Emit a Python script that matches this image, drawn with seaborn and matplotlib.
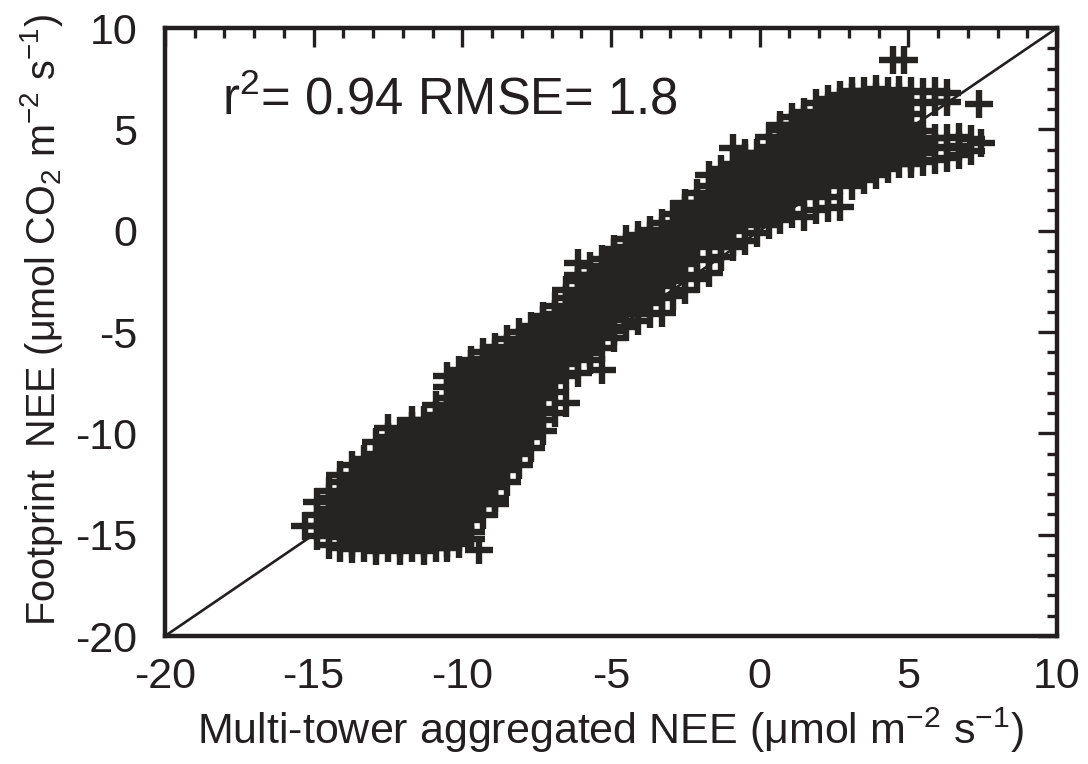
import matplotlib
matplotlib.use("Agg")
import matplotlib.pyplot as plt
from matplotlib.ticker import MultipleLocator
import pandas as pd
import seaborn as sns

# ---- data: each column x holds the '+' marks stacked in it ----
lower_x = [-15.3, -14.9, -14.5, -14.1, -13.7, -13.3, -12.9, -12.5, -12.1, -11.7,
           -11.3, -10.9, -10.5, -10.1, -9.7, -9.3]
lower_y = [
    [-14.55],
    [-15.05, -14.58, -14.03, -13.4],
    [-15.5, -14.85, -14.3, -13.75, -13.2, -12.85],
    [-15.68, -15.13, -14.58, -14.03, -13.48, -12.93, -12.38, -12.05],
    [-15.7, -15.4, -14.85, -14.3, -13.75, -13.2, -12.65, -12.1, -11.55],
    [-15.68, -15.13, -14.58, -14.03, -13.48, -12.93, -12.38, -11.83, -11.28],
    [-15.8, -15.4, -14.85, -14.3, -13.75, -13.2, -12.65, -12.1, -11.55, -11.0, -10.45],
    [-15.68, -15.13, -14.58, -14.03, -13.48, -12.93, -12.38, -11.83, -11.28, -10.73, -10.18,
     -9.75],
    [-15.8, -15.4, -14.85, -14.3, -13.75, -13.2, -12.65, -12.1, -11.55, -11.0, -10.45, -9.9],
    [-15.68, -15.13, -14.58, -14.03, -13.48, -12.93, -12.38, -11.83, -11.28, -10.73, -10.18,
     -9.63, -9.35],
    [-15.8, -15.4, -14.85, -14.3, -13.75, -13.2, -12.65, -12.1, -11.55, -11.0, -10.45, -9.9,
     -9.35],
    [-15.68, -15.13, -14.58, -14.03, -13.48, -12.93, -12.38, -11.83, -11.28, -10.73, -10.18,
     -9.63, -9.08, -8.6],
    [-15.65, -15.4, -14.85, -14.3, -13.75, -13.2, -12.65, -12.1, -11.55, -11.0, -10.45, -9.9,
     -9.35, -8.8, -8.25, -7.7, -7.15],
    [-15.45, -15.13, -14.58, -14.03, -13.48, -12.93, -12.38, -11.83, -11.28, -10.73, -10.18,
     -9.63, -9.08, -8.53, -7.98, -7.43, -6.88],
    [-15.2, -14.85, -14.3, -13.75, -13.2, -12.65, -12.1, -11.55, -11.0, -10.45, -9.9, -9.35,
     -8.8, -8.25, -7.7, -7.15, -6.6, -6.4],
    [-14.03, -13.48, -12.93, -12.38, -11.83, -11.28, -10.73, -10.18, -9.63, -9.08, -8.53,
     -7.98, -7.43, -6.88, -6.33, -6.0],
]

mid_x = [-8.9, -8.5, -8.1, -7.7, -7.3, -6.9, -6.5, -6.1, -5.7, -5.3,
         -4.9, -4.5, -4.1, -3.7, -3.3, -2.9, -2.5, -2.1, -1.7, -1.3]
mid_y = [
    [-13.5, -13.2, -12.65, -12.1, -11.55, -11.0, -10.45, -9.9, -9.35, -8.8, -8.25, -7.7,
     -7.15, -6.6, -6.05, -5.75],
    [-12.38, -11.83, -11.28, -10.73, -10.18, -9.63, -9.08, -8.53, -7.98, -7.43, -6.88, -6.33,
     -5.78, -5.35],
    [-11.55, -11.0, -10.45, -9.9, -9.35, -8.8, -8.25, -7.7, -7.15, -6.6, -6.05, -5.5, -5.0],
    [-10.73, -10.18, -9.63, -9.08, -8.53, -7.98, -7.43, -6.88, -6.33, -5.78, -5.23, -4.7],
    [-9.9, -9.35, -8.8, -8.25, -7.7, -7.15, -6.6, -6.05, -5.5, -4.95, -4.4, -4.2],
    [-9.0, -7.98, -7.43, -6.88, -6.33, -5.78, -5.23, -4.68, -4.13, -3.7],
    [-8.5, -7.15, -6.6, -6.05, -5.5, -4.95, -4.4, -3.85, -3.3, -2.95],
    [-7.0, -6.33, -5.78, -5.23, -4.68, -4.13, -3.58, -3.03, -2.48, -2.2, -1.6],
    [-6.4, -6.05, -5.5, -4.95, -4.4, -3.85, -3.3, -2.75, -2.2, -1.75],
    [-6.87, -5.78, -5.23, -4.68, -4.13, -3.58, -3.03, -2.48, -1.93, -1.4],
    [-5.3, -4.95, -4.4, -3.85, -3.3, -2.75, -2.2, -1.65, -1.1, -0.9],
    [-4.75, -4.13, -3.58, -3.03, -2.48, -1.93, -1.38, -0.83, -0.4],
    [-4.45, -3.85, -3.3, -2.75, -2.2, -1.65, -1.1, -0.55, -0.2],
    [-4.1, -3.58, -3.03, -2.48, -1.93, -1.38, -0.83, -0.28, 0.05],
    [-4.05, -3.3, -2.75, -2.2, -1.65, -1.1, -0.55, 0.0, 0.4],
    [-3.2, -2.48, -1.93, -1.38, -0.83, -0.28, 0.28, 0.83],
    [-2.95, -2.2, -1.65, -1.1, -0.55, 0.0, 0.55, 1.1, 1.35],
    [-2.4, -1.38, -0.83, -0.28, 0.28, 0.83, 1.38, 1.85],
    [-2.1, -1.45, -0.55, 0.0, 0.55, 1.1, 1.65, 2.2, 2.75],
    [-1.3, -0.83, -0.28, 0.28, 0.83, 1.38, 1.93, 2.48, 3.03],
]

upper_x = [-0.9, -0.5, -0.1, 0.3, 0.7, 1.1, 1.5, 1.9, 2.3, 2.7, 3.1,
           3.5, 3.9, 4.3, 4.7, 5.1, 5.5, 5.9, 6.3, 6.7, 7.1]
upper_y = [
    [-0.8, -0.55, 0.0, 0.55, 1.1, 1.65, 2.2, 2.75, 3.3, 4.1],
    [-0.5, 0.28, 0.83, 1.38, 1.93, 2.48, 3.03, 3.58, 3.85],
    [-0.1, 0.55, 1.1, 1.65, 2.2, 2.75, 3.3, 3.85],
    [0.28, 0.83, 1.38, 1.93, 2.48, 3.03, 3.58, 4.13, 4.6],
    [0.55, 1.1, 1.65, 2.2, 2.75, 3.3, 3.85, 4.4, 4.95, 5.2],
    [0.83, 1.38, 1.93, 2.48, 3.03, 3.58, 4.13, 4.68, 5.23, 5.6],
    [0.68, 1.65, 2.2, 2.75, 3.3, 3.85, 4.4, 4.95, 5.5, 5.85],
    [1.0, 1.93, 2.48, 3.03, 3.58, 4.13, 4.68, 5.23, 5.78, 6.3],
    [1.1, 1.65, 2.2, 2.75, 3.3, 3.85, 4.4, 4.95, 5.5, 6.05, 6.5],
    [1.15, 2.48, 3.03, 3.58, 4.13, 4.68, 5.23, 5.78, 6.33, 6.7],
    [2.2, 2.75, 3.3, 3.85, 4.4, 4.95, 5.5, 6.05, 6.6, 6.9],
    [2.48, 3.03, 3.58, 4.13, 4.68, 5.23, 5.78, 6.33, 6.88],
    [2.75, 3.3, 3.85, 4.4, 4.95, 5.5, 6.05, 6.6, 7.0],
    [3.03, 3.58, 4.13, 4.68, 5.23, 5.78, 6.33, 6.88],
    [3.3, 3.85, 4.4, 4.95, 5.5, 6.05, 6.6, 6.95],
    [3.3, 3.58, 4.13, 4.68, 5.23, 5.78, 6.33, 6.88],
    [3.4, 3.85, 4.4, 4.9, 6.3, 6.85],
    [3.5, 4.13, 4.55, 6.33, 6.88],
    [3.6, 4.1, 4.55, 6.35, 6.8],
    [3.75, 4.2, 4.6],
    [3.95, 4.5],
]

# isolated marks
extra_x = [-9.45, 4.47, 4.84, 7.38, 7.45]
extra_y = [-15.75, 8.44, 8.44, 6.25, 4.33]

x_ticks = [-20, -15, -10, -5, 0, 5, 10]
y_ticks = [-20, -15, -10, -5, 0, 5, 10]
x_label = "Multi-tower aggregated NEE (\u03bcmol m$^{-2}$ s$^{-1}$)"
y_label = "Footprint  NEE (\u03bcmol CO$_2$ m$^{-2}$ s$^{-1}$)"
stats_text = "r$^2$= 0.94 RMSE= 1.8"

# ---- build a tidy table ----
xs, ys = [], []
for colx, coly in [(lower_x, lower_y), (mid_x, mid_y), (upper_x, upper_y)]:
    for x0, col in zip(colx, coly):
        for y0 in col:
            xs.append(x0)
            ys.append(y0)
xs += extra_x
ys += extra_y
df = pd.DataFrame({"tower": xs, "footprint": ys})

# ---- style ----
sns.set_theme(style="white")
plt.rcParams["font.family"] = ["Liberation Sans", "DejaVu Sans"]
plt.rcParams["mathtext.fontset"] = "custom"
plt.rcParams["mathtext.rm"] = "Liberation Sans"
plt.rcParams["mathtext.it"] = "Liberation Sans:italic"
plt.rcParams["mathtext.bf"] = "Liberation Sans:bold"
plt.rcParams["axes.unicode_minus"] = False

ink = "#231f20"
mark = "#262422"

fig = plt.figure(figsize=(10.88, 7.64), dpi=100)
ax = fig.add_axes([165 / 1088, 1 - 636 / 764, (1057 - 165) / 1088, (636 - 28) / 764])

ax.axline((0, 0), slope=1, color=ink, lw=1.9, zorder=1)
sns.scatterplot(data=df, x="tower", y="footprint", marker="+", s=380,
                linewidth=4.6, color=mark, ax=ax, zorder=2, legend=False)

ax.set_xlim(-20, 10)
ax.set_ylim(-20, 10)
ax.set_xticks(x_ticks)
ax.set_yticks(y_ticks)
ax.set_xticklabels([str(v) for v in x_ticks])
ax.set_yticklabels([str(v) for v in y_ticks])
ax.xaxis.set_minor_locator(MultipleLocator(1))
ax.yaxis.set_minor_locator(MultipleLocator(1))
ax.tick_params(which="both", direction="in", top=True, right=True,
               color=ink, width=2.4, labelcolor=ink, labelsize=31)
ax.tick_params(which="major", length=14)
ax.tick_params(which="minor", length=7.5)
ax.tick_params(axis="x", which="major", pad=15)
ax.tick_params(axis="y", which="major", pad=20)
for sp in ax.spines.values():
    sp.set_linewidth(3.2)
    sp.set_color(ink)

ax.set_xlabel(x_label, fontsize=31, color=ink, labelpad=6)
ax.set_ylabel(y_label, fontsize=28.5, color=ink)
ax.yaxis.set_label_coords(-0.112, 0.52)
ax.text(-18.08, 5.71, stats_text, fontsize=36.5, color=ink, va="baseline", ha="left")

fig.savefig("out.png", dpi=100)
